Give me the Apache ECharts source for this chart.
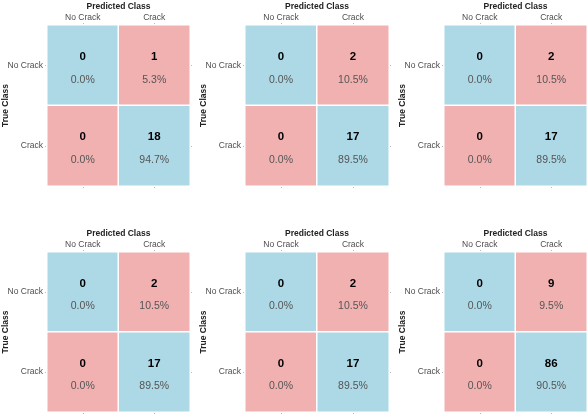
<!DOCTYPE html>
<html>
<head>
<meta charset="utf-8">
<script src="https://cdn.jsdelivr.net/npm/echarts@6/dist/echarts.min.js"></script>
<style>
  html, body { margin: 0; padding: 0; background: #fff; }
  #main { width: 588px; height: 414px; }
</style>
</head>
<body>
<div id="main"></div>
<script>
var classes = ['No Crack', 'Crack'];
// cells per panel: [true NoCrack/pred NoCrack, true NoCrack/pred Crack, true Crack/pred NoCrack, true Crack/pred Crack]
var counts1 = [0, 1, 0, 18];
var counts2 = [0, 2, 0, 17];
var counts3 = [0, 2, 0, 17];
var counts4 = [0, 2, 0, 17];
var counts5 = [0, 2, 0, 17];
var counts6 = [0, 9, 0, 86];
var pct1 = ['0.0%', '5.3%', '0.0%', '94.7%'];
var pct2 = ['0.0%', '10.5%', '0.0%', '89.5%'];
var pct3 = ['0.0%', '10.5%', '0.0%', '89.5%'];
var pct4 = ['0.0%', '10.5%', '0.0%', '89.5%'];
var pct5 = ['0.0%', '10.5%', '0.0%', '89.5%'];
var pct6 = ['0.0%', '9.5%', '0.0%', '90.5%'];

var allCounts = [counts1, counts2, counts3, counts4, counts5, counts6];
var allPct = [pct1, pct2, pct3, pct4, pct5, pct6];

var BLUE = '#add8e6', PINK = '#f1b1b1';
var lefts = [47, 245, 444], widths = [143, 144, 143];
var tops = [25, 252], heights = [161, 160];
var font = '"Liberation Sans Narrow", "Liberation Sans", Arial, sans-serif';

var grids = [], xAxes = [], yAxes = [], series = [];
for (var p = 0; p < 6; p++) {
  var col = p % 3, row = Math.floor(p / 3);
  grids.push({ left: lefts[col], top: tops[row], width: widths[col], height: heights[row],
    containLabel: false, outerBoundsMode: 'none' });
  // top axis with labels and title
  xAxes.push({
    type: 'category', gridIndex: p, position: 'top', data: classes,
    name: 'Predicted Class', nameLocation: 'middle', nameGap: 14, nameMoveOverlap: false,
    nameTextStyle: { fontFamily: font, fontWeight: 'bold', fontSize: 8.5, color: '#222' },
    axisLine: { show: false },
    axisTick: { show: true, alignWithLabel: true, length: 2, lineStyle: { color: '#bbb' } },
    axisLabel: { fontFamily: font, fontSize: 8.5, color: '#4d4d4d', margin: 3 },
    splitLine: { show: false }
  });
  // bottom duplicate ticks
  xAxes.push({
    type: 'category', gridIndex: p, position: 'bottom', data: classes,
    axisLine: { show: false },
    axisTick: { show: true, alignWithLabel: true, length: 2, lineStyle: { color: '#bbb' } },
    axisLabel: { show: false }, splitLine: { show: false }
  });
  yAxes.push({
    type: 'category', gridIndex: p, position: 'left', data: classes, inverse: true,
    name: 'True Class', nameLocation: 'middle', nameGap: 37, nameRotate: 90, nameMoveOverlap: false,
    nameTextStyle: { fontFamily: font, fontWeight: 'bold', fontSize: 8.5, color: '#222' },
    axisLine: { show: false },
    axisTick: { show: true, alignWithLabel: true, length: 2, lineStyle: { color: '#bbb' } },
    axisLabel: { fontFamily: font, fontSize: 8.5, color: '#4d4d4d', margin: 4 },
    splitLine: { show: false }
  });
  yAxes.push({
    type: 'category', gridIndex: p, position: 'right', data: classes, inverse: true,
    axisLine: { show: false },
    axisTick: { show: true, alignWithLabel: true, length: 2, lineStyle: { color: '#bbb' } },
    axisLabel: { show: false }, splitLine: { show: false }
  });

  var data = [];
  for (var i = 0; i < 4; i++) {
    var t = Math.floor(i / 2), pr = i % 2;
    data.push({
      value: [pr, t, allCounts[p][i]],
      pct: allPct[p][i],
      itemStyle: { color: t === pr ? BLUE : PINK }
    });
  }
  series.push({
    type: 'heatmap', xAxisIndex: p * 2, yAxisIndex: p * 2, data: data,
    itemStyle: { borderColor: '#fff', borderWidth: 1.5 },
    emphasis: { disabled: true },
    label: {
      show: true, offset: [0, 3],
      formatter: function (prm) { return '{c|' + prm.value[2] + '}\n{p|' + prm.data.pct + '}'; },
      rich: {
        c: { fontFamily: font, fontSize: 11.5, fontWeight: 'bold', color: '#000', lineHeight: 23 },
        p: { fontFamily: font, fontSize: 10.5, color: '#555', lineHeight: 23 }
      }
    }
  });
}

var chart = echarts.init(document.getElementById('main'));
chart.setOption({
  animation: false,
  backgroundColor: '#fff',
  grid: grids,
  xAxis: xAxes,
  yAxis: yAxes,
  series: series
});
</script>
</body>
</html>
